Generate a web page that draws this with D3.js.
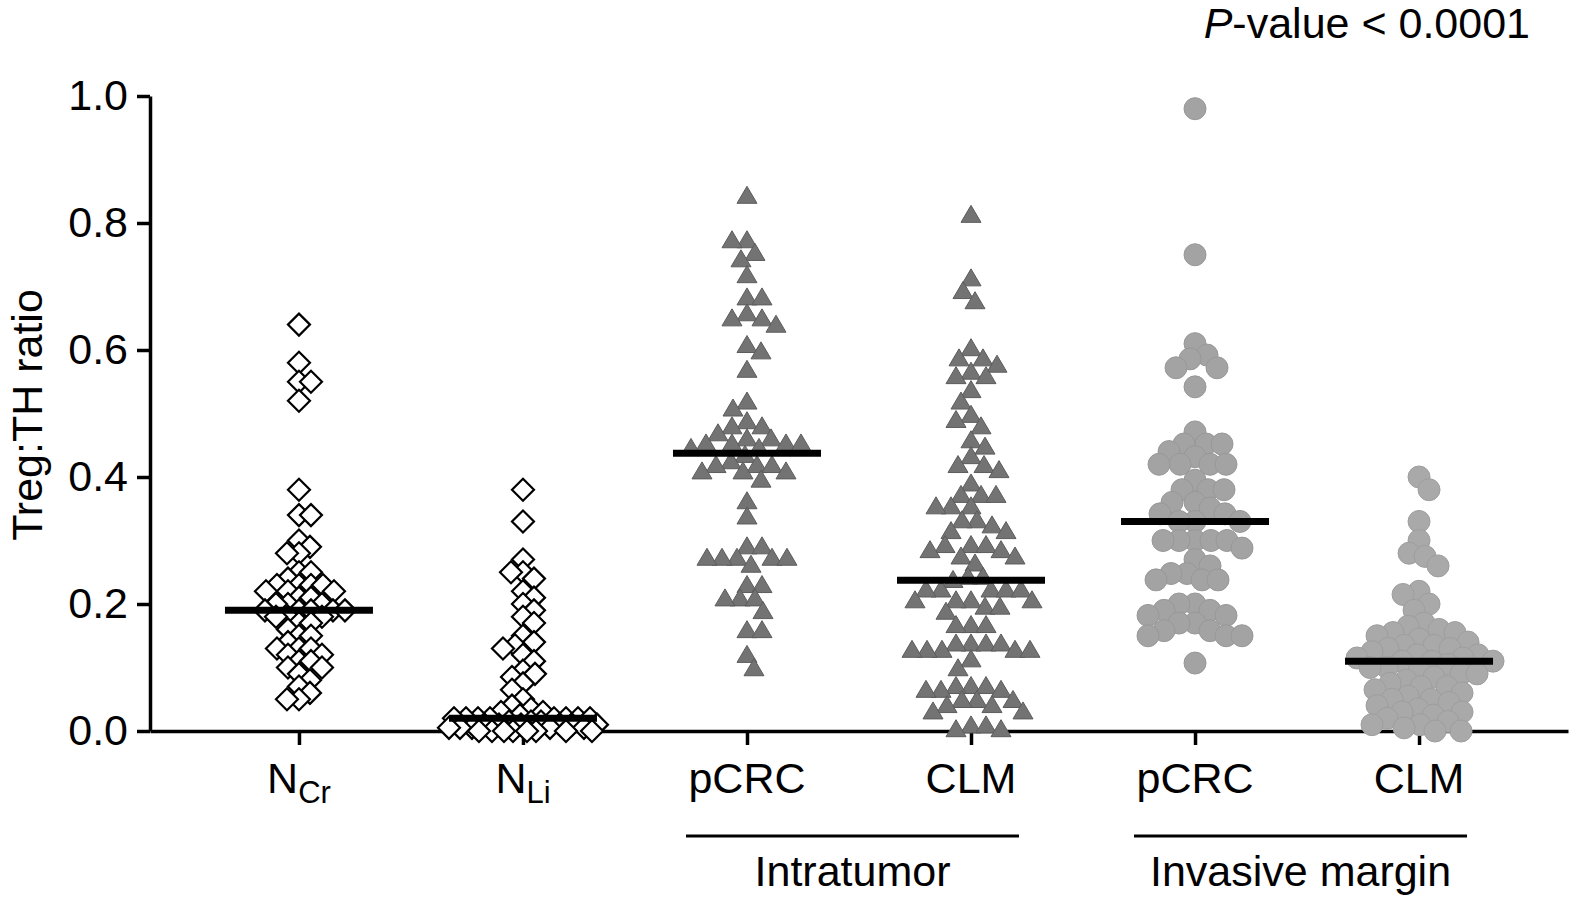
<!DOCTYPE html>
<html><head><meta charset="utf-8">
<script src="https://cdn.jsdelivr.net/npm/d3@7"></script>
<style>
body{margin:0;background:#fff}
svg{display:block}
text{font-family:"Liberation Sans",Arial,Helvetica,sans-serif;fill:#000}
</style>
</head><body>
<svg id="chart" width="1574" height="902"></svg>
<script>
// ---------- data ----------
const categories = ["NCr","NLi","pCRC_IT","CLM_IT","pCRC_IM","CLM_IM"];
const labelMain = ["N","N","pCRC","CLM","pCRC","CLM"];
const labelSub  = ["Cr","Li","","","",""];
const groupNames = ["Intratumor","Invasive margin"];
const groupMembers = [["pCRC_IT","CLM_IT"],["pCRC_IM","CLM_IM"]];
const yTicks = [0.0,0.2,0.4,0.6,0.8,1.0];
const yLabel = "Treg:TH ratio";

const nCr = [0.64,0.58,0.55,0.55,0.52,0.38,0.34,0.34,0.30,0.29,0.28,0.28,0.25,0.25,0.24,0.23,0.23,0.23,0.23,
  0.22,0.22,0.22,0.21,0.21,0.20,0.20,0.20,0.19,0.19,0.19,0.19,0.19,0.18,0.18,0.18,0.17,0.17,0.16,0.15,0.15,
  0.14,0.13,0.13,0.13,0.12,0.12,0.11,0.11,0.10,0.10,0.09,0.08,0.07,0.06,0.05,0.05];
const nLi = [0.38,0.33,0.27,0.25,0.25,0.24,0.22,0.21,0.20,0.19,0.18,0.17,0.15,0.14,0.135,0.13,0.12,0.11,0.095,
  0.09,0.085,0.075,0.065,0.05,0.04,0.035,0.03,0.03,0.025,0.02,0.02,0.02,0.02,0.02,0.02,0.02,0.02,
  0.015,0.015,0.015,0.01,0.01,0.01,0.01,0.01,0.01,0.005,0.005,0.005,0.005,0.005,0,0,0,0,0,0,0,0];
const pcrcIntra = [0.84,0.77,0.77,0.75,0.74,0.715,0.68,0.68,0.655,0.647,0.647,0.637,0.605,0.595,0.566,0.516,
  0.505,0.485,0.477,0.477,0.466,0.458,0.458,0.45,0.45,0.45,0.45,0.443,0.443,0.432,0.422,0.416,0.416,0.416,
  0.406,0.406,0.406,0.393,0.359,0.335,0.288,0.288,0.27,0.27,0.27,0.27,0.27,0.259,0.227,0.227,0.206,0.206,
  0.206,0.186,0.156,0.156,0.117,0.096];
const clmIntra = [0.81,0.71,0.69,0.674,0.60,0.584,0.584,0.574,0.563,0.556,0.556,0.534,0.516,0.495,0.487,0.477,
  0.455,0.445,0.43,0.416,0.416,0.408,0.387,0.369,0.369,0.369,0.351,0.351,0.351,0.329,0.329,0.321,0.312,0.312,
  0.29,0.29,0.29,0.282,0.282,0.272,0.272,0.261,0.24,0.24,0.235,0.22,0.22,0.22,0.22,0.22,0.203,0.203,0.203,
  0.203,0.193,0.193,0.185,0.164,0.164,0.164,0.135,0.135,0.135,0.135,0.125,0.125,0.125,0.125,0.125,0.11,0.096,
  0.068,0.068,0.068,0.062,0.062,0.062,0.046,0.046,0.046,0.038,0.038,0.028,0.028,0.006,0.006,0,0];
const pcrcMargin = [0.98,0.75,0.61,0.592,0.586,0.572,0.572,0.542,0.471,0.452,0.452,0.452,0.44,0.432,0.42,0.42,
  0.42,0.42,0.395,0.38,0.38,0.38,0.36,0.36,0.351,0.342,0.342,0.33,0.33,0.33,0.30,0.30,0.30,0.30,0.30,0.288,
  0.27,0.26,0.248,0.248,0.238,0.238,0.238,0.20,0.20,0.19,0.19,0.182,0.182,0.17,0.17,0.158,0.158,0.15,0.15,
  0.15,0.107];
const clmMargin = [0.40,0.38,0.33,0.30,0.28,0.275,0.26,0.22,0.215,0.20,0.19,0.17,0.165,0.16,0.155,0.155,0.15,
  0.145,0.14,0.135,0.135,0.13,0.13,0.125,0.12,0.12,0.115,0.115,0.11,0.11,0.11,0.105,0.10,0.10,0.095,0.09,0.09,
  0.085,0.08,0.075,0.07,0.07,0.065,0.06,0.055,0.05,0.05,0.045,0.04,0.035,0.03,0.03,0.025,0.02,0.015,0.01,0.01,
  0.005,0,0];

const seriesValues = [nCr, nLi, pcrcIntra, clmIntra, pcrcMargin, clmMargin];
const seriesMarker = ["diamond","diamond","triangle","triangle","circle","circle"];

// ---------- chart ----------
const svg = d3.select("#chart");
const FS = 43;
const y = d3.scaleLinear().domain([0,1]).range([731,96]);
const x = d3.scalePoint().domain(categories).range([150,1568]).padding(0.665);

// axes
const yAxis = svg.append("g").attr("transform","translate(150,0)")
  .call(d3.axisLeft(y).tickValues(yTicks).tickFormat(d3.format(".1f")).tickSize(13).tickSizeOuter(0).tickPadding(9));
yAxis.select(".domain").attr("stroke","#000").attr("stroke-width",3.5);
yAxis.selectAll(".tick line").attr("stroke","#000").attr("stroke-width",3.5);
yAxis.selectAll(".tick text").attr("font-size",FS).attr("font-family",'"Liberation Sans",Arial,sans-serif').attr("fill","#000");

const xAxis = svg.append("g").attr("transform","translate(0,731)")
  .call(d3.axisBottom(x).tickSize(14).tickSizeOuter(0).tickFormat(""));
xAxis.select(".domain").attr("stroke","#000").attr("stroke-width",3.5);
xAxis.selectAll(".tick line").attr("stroke","#000").attr("stroke-width",3.5);

// y label
svg.append("text").attr("transform","translate(42,415) rotate(-90)")
  .attr("text-anchor","middle").attr("font-size",FS).text(yLabel);

// category labels
categories.forEach((c,i)=>{
  const t = svg.append("text").attr("x",x(c)).attr("y",793).attr("text-anchor","middle").attr("font-size",FS);
  t.append("tspan").text(labelMain[i]);
  if (labelSub[i]) t.append("tspan").attr("font-size",31).attr("dy",10).text(labelSub[i]);
});

// group labels
groupNames.forEach((g,i)=>{
  const x0 = x(groupMembers[i][0]) - 61, x1 = x(groupMembers[i][1]) + 48;
  svg.append("line").attr("x1",x0).attr("x2",x1).attr("y1",836).attr("y2",836)
    .attr("stroke","#000").attr("stroke-width",3);
  svg.append("text").attr("x",(x0+x1)/2).attr("y",886).attr("text-anchor","middle").attr("font-size",FS).text(g);
});

// p-value
const pv = svg.append("text").attr("x",1530).attr("y",38).attr("text-anchor","end").attr("font-size",FS);
pv.append("tspan").attr("font-style","italic").text("P");
pv.append("tspan").text("-value < 0.0001");

// beeswarm layout
function swarm(values, dmin, maxHalf){
  const order = values.map((v,i)=>i).sort((a,b)=>values[b]-values[a]);
  const placed = [];
  const off = new Array(values.length);
  order.forEach((i,n)=>{
    const yi = y(values[i]);
    const near = placed.filter(p=>Math.abs(p.y-yi)<dmin);
    let best = null, fb = 0, fbScore = -1;
    for (let k=0;k<=maxHalf && best===null;k++){
      const cands = k===0?[0]:(n%2?[k,-k]:[-k,k]);
      for (const s of cands){
        let md = Infinity;
        for (const p of near){ const dd=Math.hypot(p.x-s,p.y-yi); if(dd<md) md=dd; }
        if (md>=dmin){ best=s; break; }
        if (md>fbScore){ fbScore=md; fb=s; }
      }
    }
    if (best===null) best=fb;
    off[i]=best; placed.push({x:best,y:yi});
  });
  return off;
}

const shapes = {
  diamond: "M0,-11L11,0L0,11L-11,0Z",
  triangle: "M0,-11.3L10,5.7L-10,5.7Z"
};
const spacing = {diamond:12, triangle:15, circle:16};

categories.forEach((c,gi)=>{
  const vals = seriesValues[gi];
  const m = seriesMarker[gi];
  const offs = swarm(vals, spacing[m], 74);
  const g = svg.append("g");
  const data = vals.map((v,i)=>({v,o:offs[i]}));
  if (m==="circle"){
    g.selectAll("circle").data(data).join("circle")
      .attr("cx",d=>x(c)+d.o).attr("cy",d=>y(d.v)).attr("r",11)
      .attr("fill", gi===4?"#a3a3a3":"#a9a9a9").attr("stroke", gi===4?"#989898":"#9e9e9e").attr("stroke-width",1);
  } else {
    g.selectAll("path").data(data).join("path")
      .attr("transform",d=>`translate(${x(c)+d.o},${y(d.v)})`)
      .attr("d",shapes[m])
      .attr("fill", m==="diamond"?"#fff":"#737373")
      .attr("stroke", m==="diamond"?"#000":"#5c5c5c")
      .attr("stroke-width", m==="diamond"?2.2:1);
  }
  const med = d3.median(vals);
  svg.append("line").attr("x1",x(c)-74).attr("x2",x(c)+74).attr("y1",y(med)).attr("y2",y(med))
    .attr("stroke","#000").attr("stroke-width",7);
});
</script>
</body></html>
